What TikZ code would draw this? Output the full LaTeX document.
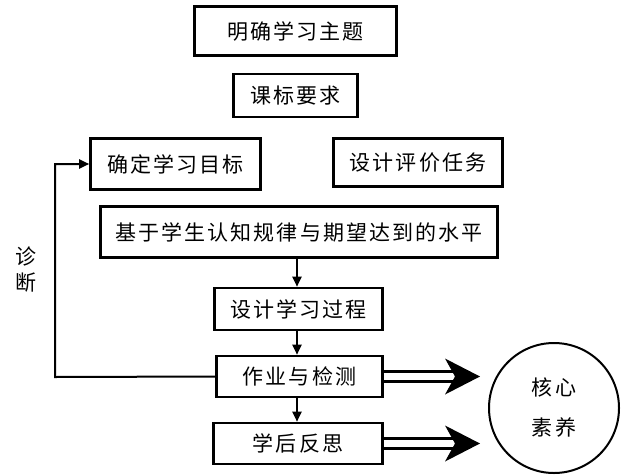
\documentclass[tikz,border=0pt]{standalone}
\usepackage{fontspec}
\newfontfamily\cjk[LetterSpace=10]{Noto Sans CJK SC}
\usetikzlibrary{arrows.meta}
\tikzset{
    box/.style={draw, line width=2.6pt, inner sep=0pt, font=\cjk\fontsize{21pt}{26pt}\selectfont},
    arr/.style={line width=2pt, -{Triangle[length=10pt,width=9pt]}},
    dbl/.style={double, double distance=7pt, line width=2.8pt}
}
\begin{document}
\begin{tikzpicture}[x=1pt, y=-1pt]
        \useasboundingbox (0,0) rectangle (621,474);
        \node[box, minimum width=202pt, minimum height=49pt] (zhuti) at (295.5,31) {明确学习主题};
        \node[box, minimum width=124pt, minimum height=43pt] (kebiao) at (295.5,95.5) {课标要求};
        \node[box, minimum width=170pt, minimum height=51pt] (mubiao) at (175.5,164) {确定学习目标};
        \node[box, minimum width=169pt, minimum height=48pt] (pingjia) at (418,162.5) {设计评价任务};
        \node[box, minimum width=397pt, minimum height=51pt] (guilv) at (299,232) {基于学生认知规律与期望达到的水平};
        \node[box, minimum width=168pt, minimum height=42pt] (guocheng) at (298.5,309) {设计学习过程};
        \node[box, minimum width=166pt, minimum height=41pt] (zuoye) at (299.5,376.5) {作业与检测};
        \node[box, minimum width=169pt, minimum height=41pt] (fansi) at (298,443.5) {学后反思};
        \node[draw, circle, line width=2pt, minimum size=130pt, align=center,
              font=\cjk\fontsize{21pt}{40pt}\selectfont] (suyang) at (554,408) {核心\\素养};
        \node[align=center, font=\cjk\fontsize{21pt}{26pt}\selectfont] (zhenduan) at (26,270) {诊\\断};
        \draw[arr] (guilv.south -| 297,0) -- (guocheng.north -| 297,0);
        \draw[arr] (guocheng.south -| 297,0) -- (zuoye.north -| 297,0);
        \draw[arr] (zuoye.south -| 297,0) -- (fansi.north -| 297,0);
        \coordinate (corner) at (55,377);
        \draw[arr] (zuoye.west) -- (corner) |- (mubiao.west);
        \foreach \n in {zuoye,fansi}
        {
            \coordinate (tip-\n) at (suyang.west |- \n.east);
            \draw[dbl] (\n.east) -- ([xshift=-30pt]tip-\n);
            \fill ([xshift=-8pt]tip-\n) -- ++(-35,-18) -- ++(10,18) -- ++(-10,18) -- cycle;
        }
    \end{tikzpicture}
\end{document}
